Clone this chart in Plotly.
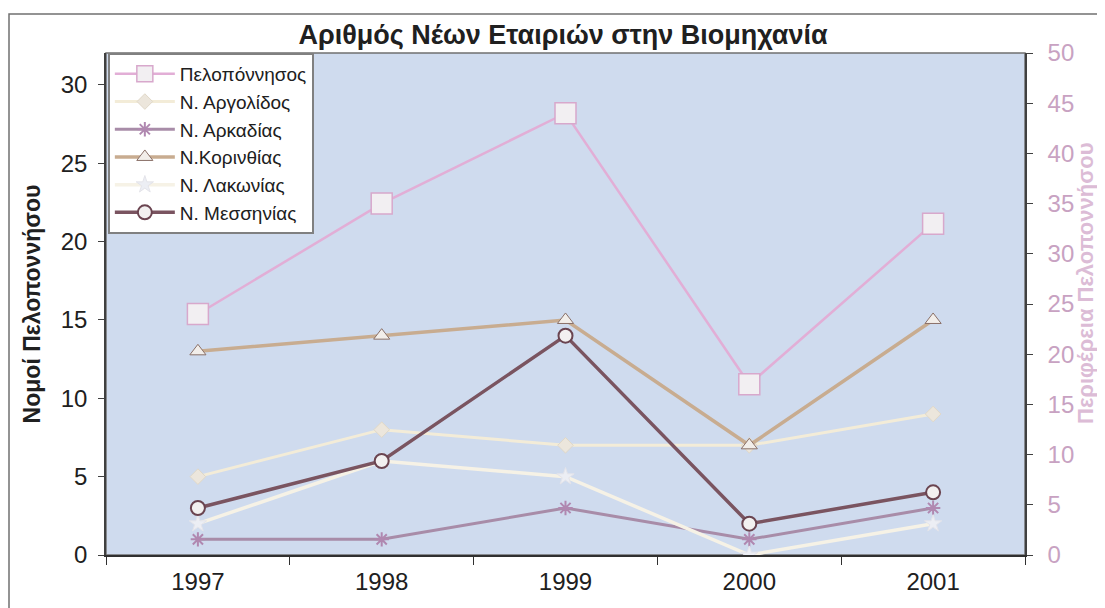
import plotly.graph_objects as go

years = ['1997', '1998', '1999', '2000', '2001']

peloponnisos = [24, 35, 44, 17, 33]
argolidos = [5, 8, 7, 7, 9]
arkadias = [1, 1, 3, 1, 3]
korinthias = [13, 14, 15, 7, 15]
lakonias = [2, 6, 5, 0, 2]
messinias = [3, 6, 14, 2, 4]

left_ticks = [0, 5, 10, 15, 20, 25, 30]
right_ticks = [0, 5, 10, 15, 20, 25, 30, 35, 40, 45, 50]

FONT = "Liberation Sans, Arial, sans-serif"

# page body has an 8px margin, so the figure is a bit smaller and shifted
W, H = 1097, 600
L, R, T, B = 98, 80, 45, 53
PW, PH = W - L - R, H - T - B

fig = go.Figure()

# region total on the right axis
fig.add_trace(go.Scatter(
    x=years, y=peloponnisos, name='Πελοπόννησος', mode='lines+markers', yaxis='y2',
    line=dict(color='#e2aed6', width=2.5),
    marker=dict(symbol='square', size=21, color='#f2eff2', line=dict(color='#d8a8cc', width=1.5))))

# nomoi on the left axis
fig.add_trace(go.Scatter(
    x=years, y=argolidos, name='Ν. Αργολίδος', mode='lines+markers',
    line=dict(color='#f3ecd8', width=3),
    marker=dict(symbol='diamond', size=12, color='#ece6dc', line=dict(color='#e0d8c8', width=1))))
fig.add_trace(go.Scatter(
    x=years, y=arkadias, name='Ν. Αρκαδίας', mode='lines+markers',
    line=dict(color='#a88ca8', width=3),
    marker=dict(symbol='asterisk-open', size=12, color='#b088b0', line=dict(color='#b088b0', width=2))))
fig.add_trace(go.Scatter(
    x=years, y=korinthias, name='Ν.Κορινθίας', mode='lines+markers',
    line=dict(color='#c8ac90', width=3.5),
    marker=dict(symbol='triangle-up', size=14, color='#f2eeea', line=dict(color='#8a7068', width=1))))
fig.add_trace(go.Scatter(
    x=years, y=lakonias, name='Ν. Λακωνίας', mode='lines+markers',
    line=dict(color='#f6f2e6', width=3.5),
    marker=dict(symbol='star', size=13, color='#eceef4', line=dict(color='#e4e4ea', width=1))))
fig.add_trace(go.Scatter(
    x=years, y=messinias, name='Ν. Μεσσηνίας', mode='lines+markers',
    line=dict(color='#7a5460', width=3.5),
    marker=dict(symbol='circle', size=14, color='#f2f0f0', line=dict(color='#6a4450', width=2))))

fig.update_layout(
    width=W, height=H,
    margin=dict(l=L, r=R, t=T, b=B),
    paper_bgcolor='white',
    plot_bgcolor='#cfdbee',
    font=dict(family=FONT, size=24, color='#202020'),
    title=dict(text='<b>Αριθμός Νέων Εταιριών στην Βιομηχανία</b>',
               x=555 / W, xanchor='center', y=1 - 27 / H, yanchor='middle',
               font=dict(size=27, color='#202020')),
    showlegend=True,
    legend=dict(x=0.002, y=1.0, xanchor='left', yanchor='top',
                bgcolor='white', bordercolor='#808080', borderwidth=2,
                font=dict(size=19, color='#202020'),
                tracegroupgap=0, itemwidth=60),
    xaxis=dict(type='category', tickson='boundaries', ticks='outside', ticklen=8,
               tickcolor='#303030', showline=True, linecolor='#303030', linewidth=1.5,
               showgrid=False, tickfont=dict(size=24), range=[-0.5, 4.5],
               ticklabelstandoff=4, automargin=False),
    yaxis=dict(range=[0, 32.04], tickvals=left_ticks, ticks='outside', ticklen=6,
               tickcolor='#404040', showline=True, linecolor='#404040', linewidth=1.5,
               showgrid=False, zeroline=False, tickfont=dict(size=24), automargin=False,
               ticklabelstandoff=6,
               title=dict(text='<b>Νομοί Πελοποννήσου</b>', font=dict(size=23), standoff=14)),
    yaxis2=dict(overlaying='y', side='right', range=[0, 50], tickvals=right_ticks,
                ticks='outside', ticklen=6, tickcolor='#404040', showline=True,
                linecolor='#404040', linewidth=1.5, showgrid=False, zeroline=False,
                tickfont=dict(size=24, color='#c8a2c2'), automargin=False,
                ticklabelstandoff=10),
    annotations=[
        dict(text='<b>Περιφέρεια Πελοποννήσου</b>', textangle=-90,
             xref='paper', yref='paper', x=(1085 - 8 - L) / PW, y=(H - B - 275) / PH,
             xanchor='center', yanchor='middle', showarrow=False,
             font=dict(size=22, color='#dcbcd6')),
    ],
    shapes=[
        dict(type='rect', xref='paper', yref='paper', x0=0, x1=1, y0=0, y1=1,
             line=dict(color='#707070', width=1.5), layer='below'),
        dict(type='rect', xref='paper', yref='paper',
             x0=(1 - L) / PW, x1=(W + 10 - L) / PW,
             y0=-(B + 20) / PH, y1=(PH + T - 6) / PH,
             line=dict(color='#707070', width=1.5)),
    ],
)

fig.write_html("out.html")
